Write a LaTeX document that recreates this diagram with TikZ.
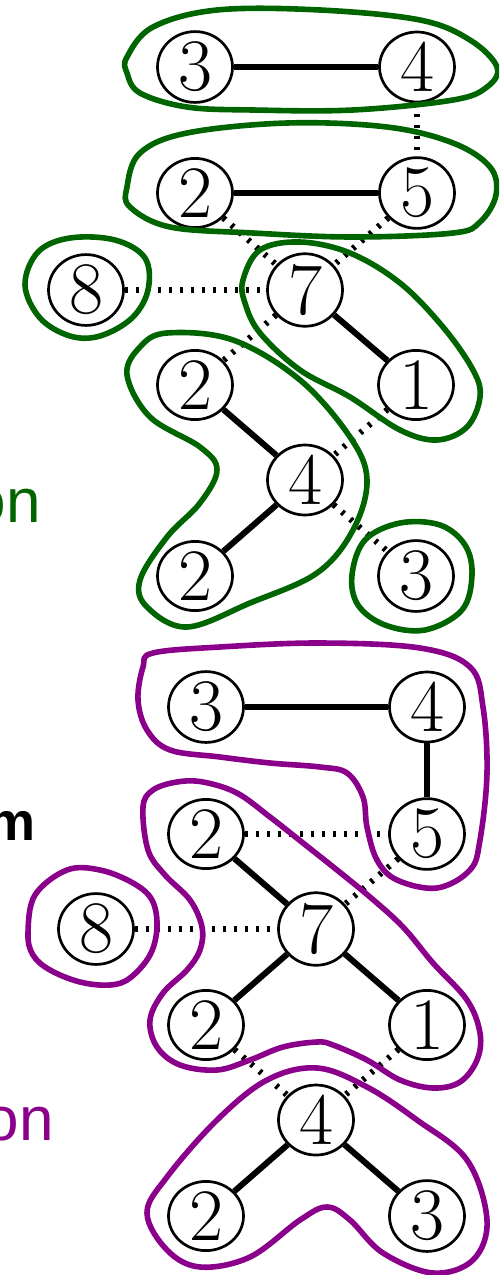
\documentclass[tikz,border=0pt]{standalone}
\usepackage{fontspec}
\newfontfamily\labelfont{Liberation Sans}
\usetikzlibrary{shapes.geometric}
\definecolor{grp}{RGB}{0,100,0}
\definecolor{prp}{RGB}{139,0,139}
\tikzset{
  vtx/.style={ellipse, draw, line width=2.7pt, fill=white, minimum width=75pt,
    minimum height=66pt, inner sep=0pt, font=\fontsize{74}{80}\selectfont},
  solidedge/.style={line width=6pt},
  dotedge/.style={line width=6pt, dash pattern=on 3pt off 8pt},
  blob/.style={line width=5.6pt, line join=round, smooth cycle, tension=0.6},
  side/.style={inner sep=0pt, anchor=base east, font=\labelfont\fontsize{62}{70}\selectfont},
}
\begin{document}
\begin{tikzpicture}[x=1pt, y=-1pt]
\useasboundingbox (0,0) rectangle (499,1275);
\clip (0,0) rectangle (499,1275);

% side labels
\node[side, text=grp] (lg) at (41,522) {on};
\node[side, font=\labelfont\bfseries\fontsize{54}{60}\selectfont] (lm) at (36,840) {m};
\node[side, text=prp] (lp) at (54,1140) {on};

% ---- upper graph ----
\node[vtx] (a3) at (195,67) {3};
\node[vtx] (a4) at (417,67) {4};
\node[vtx] (a2) at (195,193) {2};
\node[vtx] (a5) at (417,193) {5};
\node[vtx] (a8) at (86,290) {8};
\node[vtx] (a7) at (305,290) {7};
\node[vtx] (a2b) at (195,385) {2};
\node[vtx] (a1) at (416,385) {1};
\node[vtx] (a4b) at (305,480) {4};
\node[vtx] (a2c) at (195,576) {2};
\node[vtx] (a3b) at (416,576) {3};

\draw[solidedge] (a3) -- (a4);
\draw[solidedge] (a2) -- (a5);
\draw[solidedge] (a7) -- (a1);
\draw[solidedge] (a2b) -- (a4b);
\draw[solidedge] (a4b) -- (a2c);
\draw[dotedge] (a4) -- (a5);
\draw[dotedge] (a2) -- (a7);
\draw[dotedge] (a5) -- (a7);
\draw[dotedge] (a8) -- (a7);
\draw[dotedge] (a7) -- (a2b);
\draw[dotedge] (a1) -- (a4b);
\draw[dotedge] (a4b) -- (a3b);

% upper groups
\begin{scope}[draw=grp]
\draw[blob] plot coordinates {(127,57) (153,27) (217,10) (320,10) (420,20) (470,40) (497,67)
  (487,87) (453,100) (353,110) (253,110) (187,107) (140,93) (127,73)};
\draw[blob] plot coordinates {(127,187) (140,153) (187,133) (287,123) (387,127) (453,143)
  (490,167) (496,195) (480,222) (453,233) (353,237) (253,233) (170,227) (130,207)};
\draw[blob] plot coordinates {(25,285) (38,252) (70,238) (115,240) (145,258) (148,290)
  (132,318) (100,336) (70,336) (40,318)};
\draw[blob] plot coordinates {(243,280) (260,250) (300,242) (350,253) (400,283) (443,327)
  (473,370) (480,397) (467,427) (437,440) (400,430) (350,397) (300,370) (260,333) (245,303)};
\draw[blob] plot coordinates {(127,375) (140,347) (167,333) (233,340) (300,380) (350,437)
  (367,480) (353,530) (317,573) (250,603) (187,627) (147,607) (140,580) (167,537)
  (200,503) (217,470) (200,447) (150,417)};
\draw[blob] plot coordinates {(352,575) (365,540) (400,523) (440,525) (465,545) (472,575)
  (462,610) (425,630) (385,625) (358,605)};
\end{scope}

% ---- lower graph ----
\node[vtx] (b3) at (206,707) {3};
\node[vtx] (b4) at (427,707) {4};
\node[vtx] (b2) at (206,834) {2};
\node[vtx] (b5) at (427,834) {5};
\node[vtx] (b8) at (96,929) {8};
\node[vtx] (b7) at (316,929) {7};
\node[vtx] (b2b) at (206,1025) {2};
\node[vtx] (b1) at (427,1025) {1};
\node[vtx] (b4b) at (316,1120) {4};
\node[vtx] (b2c) at (206,1216) {2};
\node[vtx] (b3b) at (427,1216) {3};

\draw[solidedge] (b3) -- (b4);
\draw[solidedge] (b4) -- (b5);
\draw[solidedge] (b2) -- (b7);
\draw[solidedge] (b7) -- (b2b);
\draw[solidedge] (b7) -- (b1);
\draw[solidedge] (b4b) -- (b2c);
\draw[solidedge] (b4b) -- (b3b);
\draw[dotedge] (b2) -- (b5);
\draw[dotedge] (b5) -- (b7);
\draw[dotedge] (b8) -- (b7);
\draw[dotedge] (b2b) -- (b4b);
\draw[dotedge] (b1) -- (b4b);

% lower groups
\begin{scope}[draw=prp]
\draw[blob] plot coordinates {(138,700) (143,667) (153,653) (220,647) (320,643) (420,648)
  (470,667) (483,707) (487,773) (480,840) (470,870) (437,888) (397,880) (377,860)
  (367,827) (363,797) (347,773) (320,767) (270,763) (220,757) (170,750) (147,730)};
\draw[blob] plot coordinates {(143,807) (153,790) (177,782) (203,782) (237,793) (270,817)
  (303,843) (337,870) (370,897) (403,927) (433,963) (467,1000) (480,1033) (477,1060)
  (460,1082) (433,1088) (400,1080) (367,1060) (333,1045) (317,1042) (283,1047)
  (250,1060) (217,1070) (180,1065) (157,1047) (150,1020) (163,993) (187,970)
  (200,950) (202,927) (190,900) (165,875) (148,850)};
\draw[blob] plot coordinates {(28,933) (35,895) (67,870) (100,870) (133,883) (152,900)
  (157,927) (150,955) (130,978) (110,985) (80,982) (50,970) (33,955)};
\draw[blob] plot coordinates {(317,1068) (367,1087) (417,1120) (467,1160) (487,1220)
  (473,1260) (433,1273) (383,1253) (350,1220) (327,1207) (300,1220) (250,1257)
  (200,1267) (167,1250) (147,1213) (167,1177) (217,1120) (267,1080)};
\end{scope}
\end{tikzpicture}
\end{document}
